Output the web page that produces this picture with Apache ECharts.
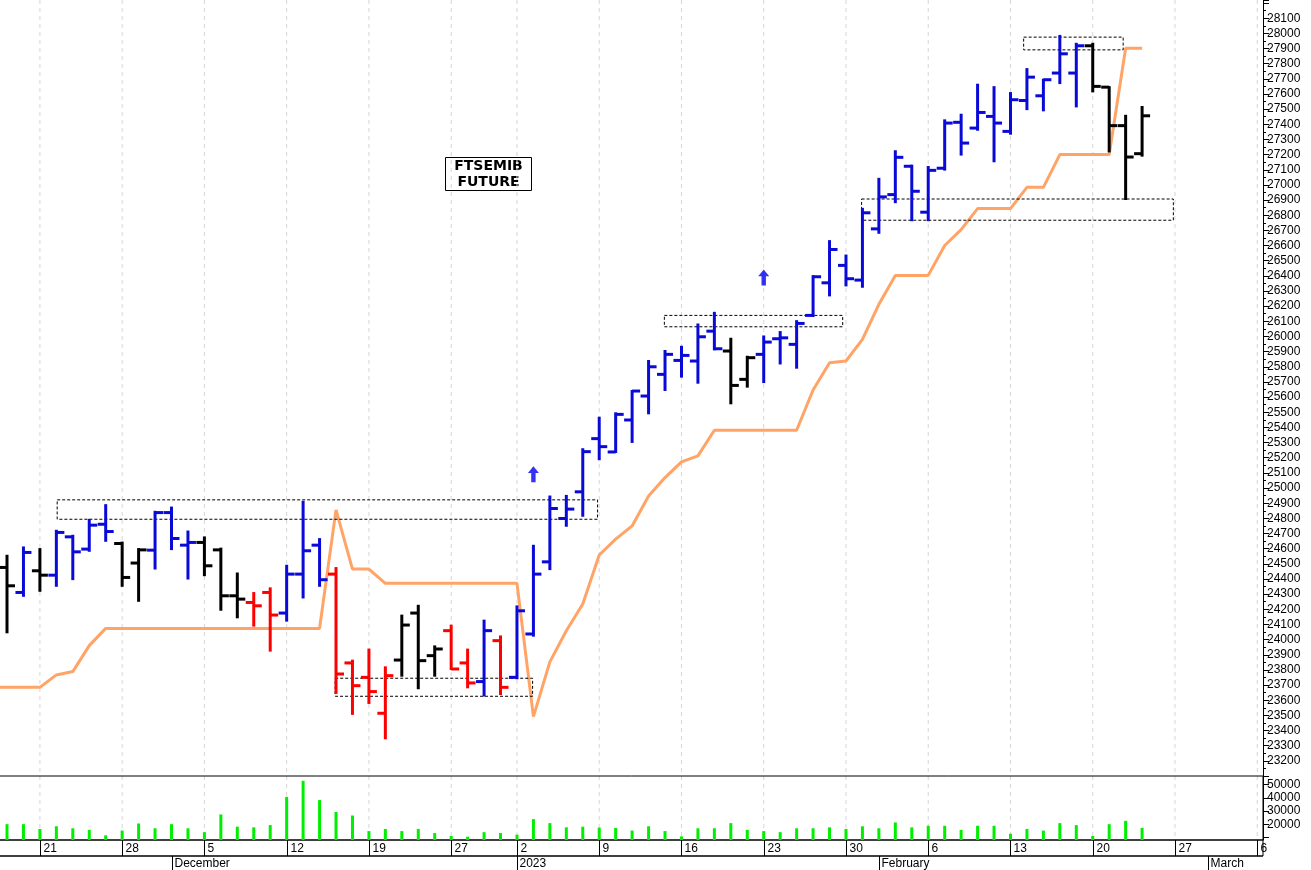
<!DOCTYPE html>
<html><head><meta charset="utf-8">
<script src="https://cdn.jsdelivr.net/npm/echarts@6/dist/echarts.min.js"></script>
<style>html,body{margin:0;padding:0;background:#fff}#c{width:1311px;height:870px}</style>
</head><body><div id="c"></div>
<script>
const opens  = [24476,24311,24454,24425,24678,24597,24761,24634,24505,24590,24838,24623,24641,24592,24289,24245,24311,24175,24432,24623,24432,23846,23751,23514,23865,24175,23894,24059,23846,23723,23993,23751,24037,24513,24799,24975,25326,25238,25449,25607,25750,25842,25838,26035,25904,25717,25882,25985,25948,26139,26354,26469,26372,26710,26936,27123,26820,27110,27413,27375,27452,27353,27557,27588,27738,27738,27918,27645,27391,27206];
const highs  = [24553,24608,24597,24718,24685,24790,24887,24640,24597,24843,24871,24713,24674,24600,24436,24307,24338,24487,24909,24663,24472,23861,23934,23817,24158,24223,23955,24092,23934,24125,24021,24219,24619,24944,24948,25256,25464,25493,25640,25838,25904,25932,26079,26156,25985,25866,26000,26029,26101,26398,26629,26534,26842,27040,27222,27127,27118,27426,27463,27661,27645,27606,27764,27694,27983,27931,27931,27645,27456,27514];
const lows   = [24048,24289,24322,24355,24399,24586,24652,24355,24256,24469,24597,24403,24425,24197,24147,24092,23927,24125,24278,24355,23648,23510,23582,23349,23762,23679,23762,23806,23685,23631,23641,23745,24026,24465,24751,24817,25190,25238,25304,25493,25647,25735,25695,25915,25559,25669,25699,25822,25794,26135,26271,26337,26328,26684,26886,26767,26767,27101,27200,27364,27156,27338,27500,27492,27672,27518,27617,27221,26907,27193];
const closes = [24355,24575,24425,24707,24579,24755,24713,24410,24592,24838,24667,24641,24487,24289,24267,24223,24162,24432,24586,24395,23773,23696,23657,23762,24096,23861,23938,23806,23714,24059,23685,24190,24432,24865,24861,25240,25273,25486,25640,25800,25882,25875,25998,25919,25677,25860,25963,25991,26086,26394,26574,26381,26816,26921,27182,26958,27096,27408,27276,27478,27408,27562,27711,27694,27865,27918,27650,27391,27184,27456];
const barColors = ('kbkbbbbkkbbbkkkrrbbbrrrrkkkrrbrb' + 'bbbbbbbbbbbb' + 'kk' + 'bbbbbbbbbbbbbbbbbbbb' + 'kkkk').split('');
const volumes = [20200,20200,16600,18600,17100,15900,11800,15400,20700,17100,20200,17100,14200,27500,18300,17800,19500,40700,52800,38300,29400,26700,15000,16600,15000,16600,13500,11300,10800,14200,13500,12300,24000,21000,17800,18300,17600,17400,15400,18600,15000,11000,17100,17100,21000,15900,15000,14200,17100,17100,17800,16600,18600,17100,21500,17800,19000,19000,15900,19000,19000,13000,16600,15400,21000,19500,11300,20200,22700,17400];
const stopIdx = [-0.43,2,3,4,5,6,19,20,21,22,23,31,32,33,34,35,36,37,38,39,40,41,42,43,48,49,50,51,52,53,54,56,57,58,59,61,62,63,64,67,68,69];
const stopVal = [23685,23685,23767,23789,23960,24074,24074,24856,24465,24465,24371,24371,23492,23853,24058,24235,24558,24663,24750,24948,25069,25172,25212,25381,25381,25647,25827,25838,25981,26212,26403,26403,26600,26705,26844,26844,26984,26984,27200,27200,27902,27902];
// boxes: [startIdx, endIdx, top, bottom]
const boxes = [[3.05,35.9,24922,24794],[19.95,31.95,23745,23626],[39.96,50.8,26139,26064],[51.95,70.9,26907,26767],[61.8,67.85,27975,27891]];
const arrowIdx = [32,46];
const arrowVal = [25091,26389];
const dayTickIdx = [2,7,12,17,22,27,31,36,41,46,51,56,61,66,71,76];
const dayTicks = ['21','28','5','12','19','27','2','9','16','23','30','6','13','20','27','6'];
const monthIdx = [10,31,53,73];
const monthLabels = ['December','2023','February','March'];

const XMIN=-0.4255, XMAX=76.35;
const FONT="'Liberation Sans Narrow','Liberation Sans',Arial,sans-serif";
const chart = echarts.init(document.getElementById('c'));
const xa = gi => ({type:'value',gridIndex:gi,min:XMIN,max:XMAX,show:false});
const ohlc = opens.map((o,i)=>[i,o,highs[i],lows[i],closes[i]]);
const colMap={b:'#0a0ad8',k:'#000000',r:'#ff0000'};

const vlineSeries = gi => ({type:'custom',xAxisIndex:gi,yAxisIndex:gi,silent:true,z:1,
  data:dayTickIdx.map(v=>[v]),
  renderItem:(p,api)=>{const x=api.coord([api.value(0),0])[0];const cs=p.coordSys;
    return {type:'line',shape:{x1:x,y1:cs.y,x2:x,y2:cs.y+cs.height},style:{stroke:'#d6d6d6',lineWidth:1,lineDash:[4,4]}};}});

chart.setOption({
  animation:false,
  grid:[{left:0,top:0,width:1263,height:776},{left:0,top:776,width:1263,height:64},{left:0,top:840,width:1263,height:30}],
  xAxis:[xa(0),xa(1),xa(2)],
  yAxis:[
    {type:'value',gridIndex:0,position:'right',min:23100,max:28220,interval:100,
     axisLine:{show:true,onZero:false,lineStyle:{color:'#000'}},axisTick:{show:true,length:6,lineStyle:{color:'#000'}},
     minorTick:{show:true,splitNumber:2,length:3,lineStyle:{color:'#000'}},splitLine:{show:false},
     axisLabel:{color:'#000',fontSize:12,fontFamily:'Liberation Sans,Arial',margin:4,formatter:v=>(v<23200||v>28100)?'':String(v)}},
    {type:'value',gridIndex:1,position:'right',min:8300,max:56400,
     axisLine:{show:true,onZero:false,lineStyle:{color:'#000'}},
     axisTick:{show:true,length:6,customValues:[10000,20000,30000,40000,50000],lineStyle:{color:'#000'}},
     minorTick:{show:false},splitLine:{show:false},
     axisLabel:{color:'#000',fontSize:12,fontFamily:'Liberation Sans,Arial',margin:4,customValues:[20000,30000,40000,50000],formatter:v=>String(v)}},
    {type:'value',gridIndex:2,min:0,max:1,show:false}
  ],
  graphic:[{type:'group',left:445,top:157,children:[
    {type:'rect',shape:{x:0,y:0,width:86,height:33},style:{fill:'#fff',stroke:'#000',lineWidth:1}},
    {type:'text',x:43,y:16.5,style:{text:'FTSEMIB\nFUTURE',align:'center',verticalAlign:'middle',font:"bold 14px 'DejaVu Sans'",lineHeight:16,fill:'#000'}}]}],
  series:[
    vlineSeries(0), vlineSeries(1),
    {type:'line',xAxisIndex:0,yAxisIndex:0,data:stopIdx.map((v,i)=>[v,stopVal[i]]),showSymbol:false,
     lineStyle:{color:'#ffa466',width:3},z:2,silent:true},
    {type:'custom',xAxisIndex:0,yAxisIndex:0,z:3,data:boxes,
     renderItem:(p,api)=>{const a=api.coord([api.value(0),api.value(2)]),b=api.coord([api.value(1),api.value(3)]);
       return {type:'rect',shape:{x:a[0],y:a[1],width:b[0]-a[0],height:b[1]-a[1]},style:{fill:'none',stroke:'#000',lineWidth:1,lineDash:[3,2]}};}},
    {type:'custom',xAxisIndex:0,yAxisIndex:0,z:4,data:ohlc,
     renderItem:(p,api)=>{const x=api.value(0);const o=api.coord([x,api.value(1)]),h=api.coord([x,api.value(2)]),
       l=api.coord([x,api.value(3)]),c=api.coord([x,api.value(4)]);const col=colMap[barColors[p.dataIndex]]||'#000';
       const st={stroke:col,lineWidth:3};
       return {type:'group',children:[
         {type:'line',shape:{x1:h[0],y1:h[1]-1,x2:l[0],y2:l[1]+1},style:st},
         {type:'line',shape:{x1:o[0]-8,y1:o[1],x2:o[0],y2:o[1]},style:st},
         {type:'line',shape:{x1:c[0],y1:c[1],x2:c[0]+8,y2:c[1]},style:st}]};}},
    {type:'scatter',xAxisIndex:0,yAxisIndex:0,z:5,data:arrowIdx.map((v,i)=>[v,arrowVal[i]]),
     symbol:'path://M5,0 L10,6 L7,6 L7,14 L3,14 L3,6 L0,6 Z',symbolSize:[11,16],itemStyle:{color:'#0000ee'}},
    {type:'bar',xAxisIndex:1,yAxisIndex:1,data:volumes.map((v,i)=>[i,v]),barWidth:3,itemStyle:{color:'#00ee00'},z:3},
    {type:'custom',xAxisIndex:2,yAxisIndex:2,silent:true,
     data:[[0,-1]].concat(dayTickIdx.map((v,i)=>[v,i])).concat(monthIdx.map((v,i)=>[v,100+i])),
     renderItem:(p,api)=>{const cs=p.coordSys;const v=api.value(0),k=api.value(1);
       if(k<0){return {type:'group',children:[
         {type:'line',shape:{x1:0,y1:cs.y,x2:cs.x+cs.width,y2:cs.y},style:{stroke:'#000',lineWidth:1.5}},
         {type:'line',shape:{x1:0,y1:cs.y+16,x2:cs.x+cs.width,y2:cs.y+16},style:{stroke:'#000',lineWidth:1.5}},
         {type:'line',shape:{x1:0,y1:cs.y-64,x2:cs.x+cs.width,y2:cs.y-64},style:{stroke:'#000',lineWidth:1}},
         {type:'line',shape:{x1:cs.x+cs.width,y1:cs.y-64,x2:cs.x+cs.width,y2:cs.y+16},style:{stroke:'#000',lineWidth:1}}]};}
       const x=Math.round(api.coord([v,0])[0])+0.5;
       if(k<100){return {type:'group',children:[
         {type:'line',shape:{x1:x,y1:cs.y,x2:x,y2:cs.y+16},style:{stroke:'#000',lineWidth:1}},
         {type:'text',x:x+3,y:cs.y+8.5,style:{text:dayTicks[k],font:'12px '+FONT,verticalAlign:'middle',fill:'#000'}}]};}
       return {type:'group',children:[
         {type:'line',shape:{x1:x,y1:cs.y+16,x2:x,y2:cs.y+30},style:{stroke:'#000',lineWidth:1}},
         {type:'text',x:x+2,y:cs.y+24,style:{text:monthLabels[k-100],font:'12px '+FONT,verticalAlign:'middle',fill:'#000'}}]};}}
  ]
});
</script></body></html>
